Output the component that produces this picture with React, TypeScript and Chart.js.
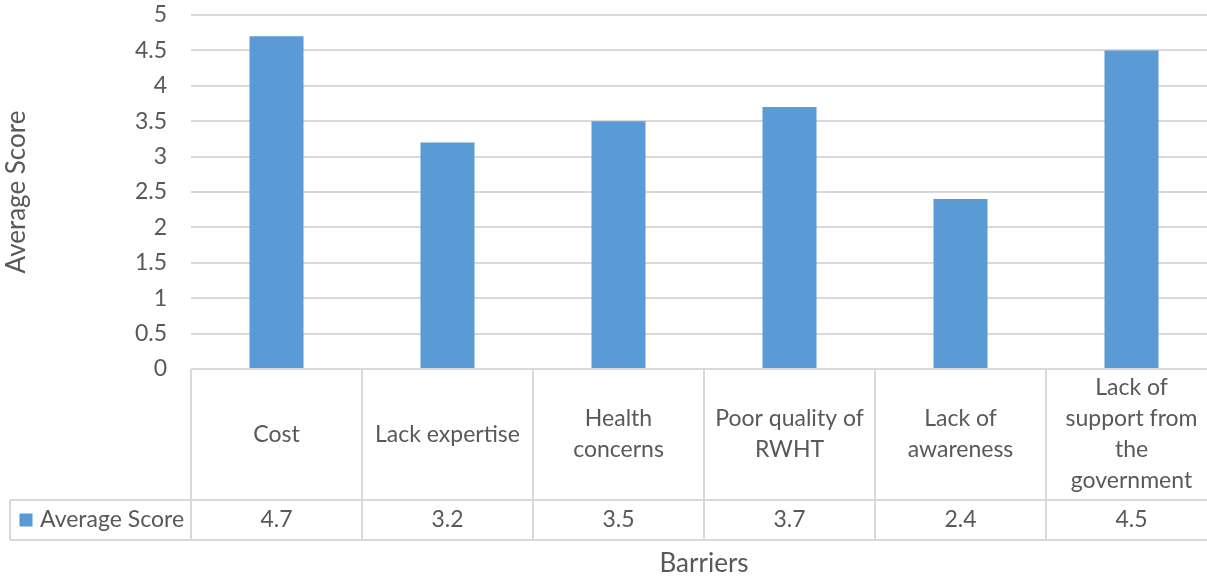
import React, { useEffect, useRef } from 'react';
import { Chart, registerables } from 'chart.js';

Chart.register(...registerables);

const categories: string[][] = [
  ['Cost'],
  ['Lack expertise'],
  ['Health', 'concerns'],
  ['Poor quality of', 'RWHT'],
  ['Lack of', 'awareness'],
  ['Lack of', 'support from', 'the', 'government'],
];
const seriesName = 'Average Score';
const averageScores = [4.7, 3.2, 3.5, 3.7, 2.4, 4.5];
const valueLabels = ['4.7', '3.2', '3.5', '3.7', '2.4', '4.5'];
const yTitle = 'Average Score';
const xTitle = 'Barriers';

const FONT = 'Lato, "Open Sans", sans-serif';
const TEXT = '#595959';
const GRID = '#d9d9d9';
const BAR = '#5B9BD5';

const tablePlugin = {
  id: 'dataTable',
  afterDraw(chart: any) {
    const { ctx, chartArea } = chart;
    const x = chart.scales.x;
    const n = categories.length;
    const colW = (chartArea.right - chartArea.left) / n;
    const top = chartArea.bottom;
    const catBottom = top + 131;
    const valBottom = catBottom + 40;
    const tableLeft = 10;
    ctx.save();
    ctx.strokeStyle = GRID;
    ctx.lineWidth = 2;
    ctx.beginPath();
    ctx.moveTo(chartArea.left, top);
    ctx.lineTo(chartArea.right, top);
    ctx.moveTo(tableLeft, catBottom);
    ctx.lineTo(chartArea.right, catBottom);
    ctx.moveTo(tableLeft, valBottom);
    ctx.lineTo(chartArea.right, valBottom);
    ctx.moveTo(tableLeft, catBottom);
    ctx.lineTo(tableLeft, valBottom);
    for (let i = 0; i <= n; i++) {
      const bx = i < n ? x.getPixelForValue(i) - colW / 2 : x.getPixelForValue(n - 1) + colW / 2;
      ctx.moveTo(bx, top);
      ctx.lineTo(bx, valBottom);
    }
    ctx.stroke();

    ctx.fillStyle = TEXT;
    ctx.font = `23px ${FONT}`;
    ctx.textAlign = 'center';
    ctx.textBaseline = 'middle';
    const lh = 31;
    const catMid = (top + catBottom) / 2;
    const valMid = (catBottom + valBottom) / 2;
    categories.forEach((lines, i) => {
      const cx = x.getPixelForValue(i);
      const start = catMid - ((lines.length - 1) * lh) / 2;
      lines.forEach((ln, j) => ctx.fillText(ln, cx, start + j * lh));
      ctx.fillText(valueLabels[i], cx, valMid);
    });
    // legend key
    ctx.fillStyle = BAR;
    ctx.fillRect(19.5, valMid - 6.5, 13, 13);
    ctx.fillStyle = TEXT;
    ctx.textAlign = 'left';
    ctx.fillText(seriesName, 40, valMid);
    ctx.restore();
  },
};

export default function App() {
  const ref = useRef<HTMLCanvasElement>(null);
  useEffect(() => {
    if (!ref.current) return;
    const chart = new Chart(ref.current, {
      type: 'bar',
      data: {
        labels: categories.map((c) => c.join(' ')),
        datasets: [
          {
            label: seriesName,
            data: averageScores,
            backgroundColor: BAR,
            barPercentage: 0.316,
            categoryPercentage: 1,
          },
        ],
      },
      options: {
        responsive: false,
        animation: false,
        layout: { padding: { top: 15, right: 5, bottom: 0, left: 0 } },
        plugins: { legend: { display: false }, tooltip: { enabled: false } },
        scales: {
          x: {
            grid: { display: false },
            border: { display: false },
            ticks: { display: false },
            title: {
              display: true,
              text: xTitle,
              color: TEXT,
              font: { family: FONT, size: 26 },
              padding: { top: 0, bottom: 2 },
            },
            afterFit: (s: any) => {
              s.height = 212;
            },
          },
          y: {
            min: 0,
            max: 5,
            ticks: {
              stepSize: 0.5,
              color: TEXT,
              padding: 24,
              font: { family: FONT, size: 23 },
              callback: (v: any) => String(Number(v)),
            },
            grid: { color: GRID, lineWidth: 2, drawTicks: false },
            border: { display: false },
            title: {
              display: true,
              text: yTitle,
              color: TEXT,
              font: { family: FONT, size: 26 },
              padding: { top: 1, bottom: 0 },
            },
            afterFit: (s: any) => {
              s.width = 191;
              s.paddingTop = 0;
              s.paddingBottom = 0;
            },
          },
        },
      },
      plugins: [tablePlugin],
    });
    return () => chart.destroy();
  }, []);
  return (
    <div style={{ position: 'absolute', left: 0, top: 0, width: 1207, height: 581, overflow: 'hidden', background: '#fff' }}>
      <canvas ref={ref} width={1222} height={581} style={{ display: 'block' }} />
    </div>
  );
}
